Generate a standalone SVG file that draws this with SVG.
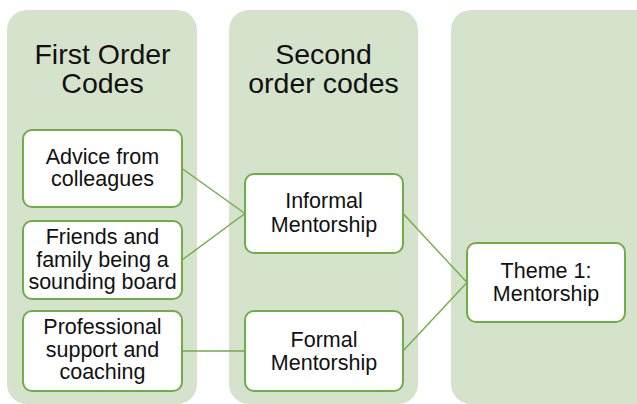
<svg xmlns="http://www.w3.org/2000/svg" width="637" height="404" viewBox="0 0 637 404">
<style>
.col{fill:#d5e3cc;}
.box{fill:#ffffff;stroke:#70ad47;stroke-width:2;}
.hd{font-family:"Liberation Sans",Arial,sans-serif;font-size:28.5px;fill:#111;text-anchor:middle;}
.tx{font-family:"Liberation Sans",Arial,sans-serif;font-size:21.5px;fill:#111;text-anchor:middle;}
.con{stroke:#70ad47;stroke-width:1.4;fill:none;}
</style>
<rect width="637" height="404" fill="#ffffff"/>
<g id="col1"><rect class="col" x="7" y="10" width="190" height="394" rx="20"/>
<text class="hd" x="102.5" y="63.5">First Order</text><text class="hd" x="102.5" y="93">Codes</text></g>
<g id="col2"><rect class="col" x="229" y="10" width="189" height="394" rx="20"/>
<text class="hd" x="323.5" y="63.5">Second</text><text class="hd" x="323.5" y="93">order codes</text></g>
<g id="col3"><rect class="col" x="451" y="10" width="220" height="394" rx="20"/></g>
<g id="connectors">
<line class="con" x1="182" y1="168.5" x2="245" y2="213.5"/>
<line class="con" x1="182" y1="260" x2="245" y2="213.5"/>
<line class="con" x1="182" y1="351" x2="245" y2="351"/>
<line class="con" x1="403" y1="213.5" x2="467" y2="282.5"/>
<line class="con" x1="403" y1="351" x2="467" y2="282.5"/>
</g>
<g id="n1"><rect class="box" x="23" y="130" width="159" height="77" rx="9"/>
<text class="tx" x="102.5" y="163.5">Advice from</text><text class="tx" x="102.5" y="186">colleagues</text></g>
<g id="n2"><rect class="box" x="23" y="221" width="159" height="78" rx="9"/>
<text class="tx" x="102.5" y="243.5">Friends and</text><text class="tx" x="102.5" y="266.5">family being a</text><text class="tx" x="102.5" y="289">sounding board</text></g>
<g id="n3"><rect class="box" x="23" y="311" width="159" height="80" rx="9"/>
<text class="tx" x="102.5" y="334">Professional</text><text class="tx" x="102.5" y="357">support and</text><text class="tx" x="102.5" y="379">coaching</text></g>
<g id="n4"><rect class="box" x="245" y="174" width="158" height="79" rx="9"/>
<text class="tx" x="324" y="208">Informal</text><text class="tx" x="324" y="231.5">Mentorship</text></g>
<g id="n5"><rect class="box" x="245" y="311" width="158" height="80" rx="9"/>
<text class="tx" x="324" y="346.5">Formal</text><text class="tx" x="324" y="369.5">Mentorship</text></g>
<g id="n6"><rect class="box" x="467" y="243" width="158" height="79" rx="9"/>
<text class="tx" x="546" y="278">Theme 1:</text><text class="tx" x="546" y="301">Mentorship</text></g>
</svg>
